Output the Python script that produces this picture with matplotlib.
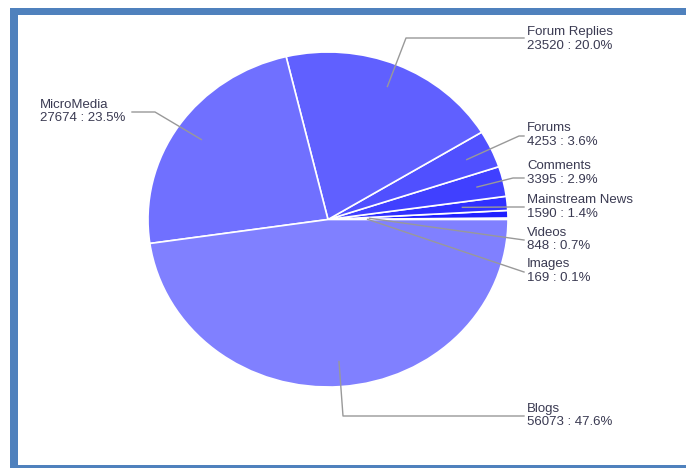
import numpy as np
import matplotlib
matplotlib.use("Agg")
import matplotlib.pyplot as plt
from matplotlib.patches import Rectangle

# slices in drawing order (counter-clockwise from 3 o'clock)
names = ["Images", "Videos", "Mainstream News", "Comments", "Forums",
         "Forum Replies", "MicroMedia", "Blogs"]
counts = [169, 848, 1590, 3395, 4253, 23520, 27674, 56073]
pct_labels = ["0.1%", "0.7%", "1.4%", "2.9%", "3.6%", "20.0%", "23.5%", "47.6%"]
colors = ["#1010ff", "#2020ff", "#3030ff", "#4040ff", "#5050ff",
          "#6060ff", "#7070ff", "#8080ff"]

W, H = 686, 468
fig = plt.figure(figsize=(W / 100, H / 100), dpi=100)

# pie axes (slightly squashed vertically like the original)
cx, cy, rx, ry = 328, 219.5, 180, 167.5
ax = fig.add_axes([(cx - rx) / W, (H - cy - ry) / H, 2 * rx / W, 2 * ry / H])
wedges, _ = ax.pie(counts, colors=colors, startangle=0, counterclock=True,
                   radius=1, wedgeprops=dict(edgecolor="white", linewidth=1.2))
ax.set_xlim(-1, 1)
ax.set_ylim(-1, 1)
ax.set_aspect("auto")
ax.axis("off")

# overlay in pixel coordinates for frame, leader lines and labels
ov = fig.add_axes([0, 0, 1, 1], zorder=5)
ov.set_xlim(0, W)
ov.set_ylim(H, 0)
ov.axis("off")
ov.patch.set_alpha(0)

border = "#4f81bd"
ov.add_patch(Rectangle((10, 8), W - 10, 7, color=border, lw=0))
ov.add_patch(Rectangle((10, 8), 8, H - 8, color=border, lw=0))
ov.add_patch(Rectangle((10, 465), W - 10, 3, color=border, lw=0))

# leader layout: radius of anchor, elbow point, end point, text anchor
anchor_r = [0.22, 0.23, 0.75, 0.85, 0.85, 0.86, 0.85, 0.85]
elbows = [(524, 272), (524, 240), (510, 207), (513, 178), (519, 136),
          (406, 38), (155, 112), (343, 416)]
ends = [(524, 272), (524, 240), (524, 207), (524, 178), (524, 136),
        (524, 38), (132, 112), (524, 416)]
text_pos = [(527, 271), (527, 239.5), (527, 207), (527, 173), (527, 135),
            (527, 39), (40, 111.5), (527, 415.5)]

for w, r, el, en, tp, n, c, p in zip(wedges, anchor_r, elbows, ends, text_pos,
                                     names, counts, pct_labels):
    mid = np.deg2rad((w.theta1 + w.theta2) / 2)
    sx, sy = ax.transData.transform((r * np.cos(mid), r * np.sin(mid)))
    sx, sy = ov.transData.inverted().transform((sx, sy))
    ov.plot([sx, el[0], en[0]], [sy, el[1], en[1]], color="#999999", lw=1)
    ov.text(tp[0], tp[1], f"{n}\n{c} : {p}", ha="left", va="center",
            fontsize=9.5, family="Liberation Sans", color="#3a3a52",
            linespacing=1.2)

fig.savefig("out.png", dpi=100, facecolor="white")
